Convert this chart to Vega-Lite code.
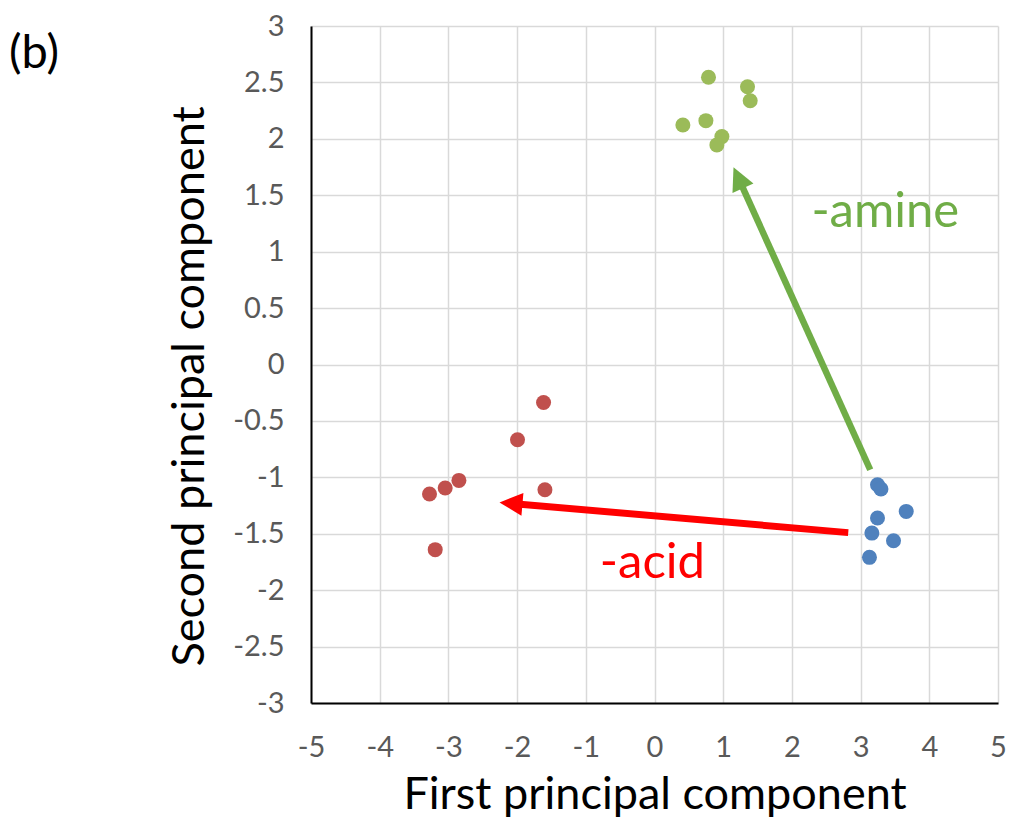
{
  "$schema": "https://vega.github.io/schema/vega-lite/v6.json",
  "width": 687,
  "height": 677,
  "autosize": {"type": "none"},
  "padding": {"left": 311, "top": 26, "right": 11, "bottom": 116},
  "background": "white",
  "config": {
    "view": {"stroke": null},
    "font": "Lato"
  },
  "title": {
    "text": "(b)",
    "anchor": "start",
    "frame": "group",
    "orient": "top",
    "font": "Lato",
    "fontSize": 47,
    "fontWeight": "normal",
    "color": "black",
    "dx": -302,
    "dy": 66,
    "offset": 0
  },
  "datasets": {
    "points": [
      {"x": -1.615, "y": -0.337, "group": "red"},
      {"x": -1.994, "y": -0.667, "group": "red"},
      {"x": -2.847, "y": -1.027, "group": "red"},
      {"x": -3.047, "y": -1.095, "group": "red"},
      {"x": -3.275, "y": -1.148, "group": "red"},
      {"x": -1.595, "y": -1.11, "group": "red"},
      {"x": -3.192, "y": -1.641, "group": "red"},
      {"x": 3.246, "y": -1.066, "group": "blue"},
      {"x": 3.296, "y": -1.104, "group": "blue"},
      {"x": 3.664, "y": -1.302, "group": "blue"},
      {"x": 3.246, "y": -1.361, "group": "blue"},
      {"x": 3.164, "y": -1.494, "group": "blue"},
      {"x": 3.479, "y": -1.562, "group": "blue"},
      {"x": 3.129, "y": -1.709, "group": "blue"},
      {"x": 0.786, "y": 2.546, "group": "green"},
      {"x": 1.354, "y": 2.462, "group": "green"},
      {"x": 1.393, "y": 2.338, "group": "green"},
      {"x": 0.748, "y": 2.161, "group": "green"},
      {"x": 0.413, "y": 2.123, "group": "green"},
      {"x": 0.981, "y": 2.02, "group": "green"},
      {"x": 0.908, "y": 1.946, "group": "green"}
    ],
    "greenArrow": [{"x": 3.14, "y": -0.933, "x2": 1.24, "y2": 1.627, "tx": 1.15, "ty": 1.748}],
    "redArrow": [{"x": 2.82, "y": -1.49, "x2": -2.04, "y2": -1.234, "tx": -2.256, "ty": -1.222}],
    "labels": [
      {"x": 3.36, "y": 1.35, "label": "-amine", "group": "green"},
      {"x": -0.03, "y": -1.756, "label": "-acid", "group": "red"}
    ]
  },
  "layer": [
    {
      "data": {"name": "points"},
      "mark": {"type": "point", "filled": true, "opacity": 1, "size": 225, "shape": "circle"},
      "encoding": {
        "x": {
          "field": "x", "type": "quantitative",
          "scale": {"domain": [-5, 5], "nice": false, "zero": false},
          "axis": {
            "values": [-5, -4, -3, -2, -1, 0, 1, 2, 3, 4, 5],
            "labelExpr": "toString(datum.value)",
            "title": "First principal component",
            "titleFont": "Lato", "titleFontSize": 45, "titleFontWeight": "normal", "titleColor": "black",
            "titlePadding": 10,
            "labelFont": "Lato", "labelFontSize": 29, "labelColor": "#595959", "labelPadding": 30,
            "ticks": false,
            "domainColor": "black", "domainWidth": 2,
            "grid": true, "gridColor": "#d9d9d9", "gridWidth": 1.5,
            "labelFlush": false, "labelOverlap": false
          }
        },
        "y": {
          "field": "y", "type": "quantitative",
          "scale": {"domain": [-3, 3], "nice": false, "zero": false},
          "axis": {
            "values": [-3, -2.5, -2, -1.5, -1, -0.5, 0, 0.5, 1, 1.5, 2, 2.5, 3],
            "labelExpr": "toString(datum.value)",
            "title": "Second principal component",
            "titleFont": "Lato", "titleFontSize": 45, "titleFontWeight": "normal", "titleColor": "black",
            "titlePadding": 20,
            "titleY": 360,
            "labelFont": "Lato", "labelFontSize": 29, "labelColor": "#595959", "labelPadding": 27,
            "ticks": false,
            "domainColor": "black", "domainWidth": 2,
            "grid": true, "gridColor": "#d9d9d9", "gridWidth": 1.5,
            "labelFlush": false, "labelOverlap": false
          }
        },
        "color": {
          "field": "group", "type": "nominal",
          "scale": {"domain": ["red", "blue", "green"], "range": ["#c0504d", "#4f81bd", "#9bbb59"]},
          "legend": null
        }
      }
    },
    {
      "data": {"name": "greenArrow"},
      "mark": {"type": "rule", "color": "#70ad47", "strokeWidth": 6.5},
      "encoding": {
        "x": {"field": "x", "type": "quantitative"},
        "y": {"field": "y", "type": "quantitative"},
        "x2": {"field": "x2"},
        "y2": {"field": "y2"}
      }
    },
    {
      "data": {"name": "greenArrow"},
      "mark": {"type": "point", "filled": true, "opacity": 1, "color": "#70ad47", "shape": "M0,0L-0.5,1L0.5,1Z", "size": 2116, "angle": 335.7},
      "encoding": {
        "x": {"field": "tx", "type": "quantitative"},
        "y": {"field": "ty", "type": "quantitative"}
      }
    },
    {
      "data": {"name": "redArrow"},
      "mark": {"type": "rule", "color": "#ff0000", "strokeWidth": 7},
      "encoding": {
        "x": {"field": "x", "type": "quantitative"},
        "y": {"field": "y", "type": "quantitative"},
        "x2": {"field": "x2"},
        "y2": {"field": "y2"}
      }
    },
    {
      "data": {"name": "redArrow"},
      "mark": {"type": "point", "filled": true, "opacity": 1, "color": "#ff0000", "shape": "M0,0L-0.5,1L0.5,1Z", "size": 2116, "angle": 274.9},
      "encoding": {
        "x": {"field": "tx", "type": "quantitative"},
        "y": {"field": "ty", "type": "quantitative"}
      }
    },
    {
      "data": {"name": "labels"},
      "mark": {"type": "text", "font": "Lato", "fontSize": 49, "align": "center", "baseline": "middle"},
      "encoding": {
        "x": {"field": "x", "type": "quantitative"},
        "y": {"field": "y", "type": "quantitative"},
        "text": {"field": "label"},
        "color": {
          "field": "group", "type": "nominal",
          "scale": {"domain": ["red", "green"], "range": ["#ff0000", "#70ad47"]},
          "legend": null
        }
      }
    }
  ],
  "resolve": {"scale": {"color": "independent"}}
}
